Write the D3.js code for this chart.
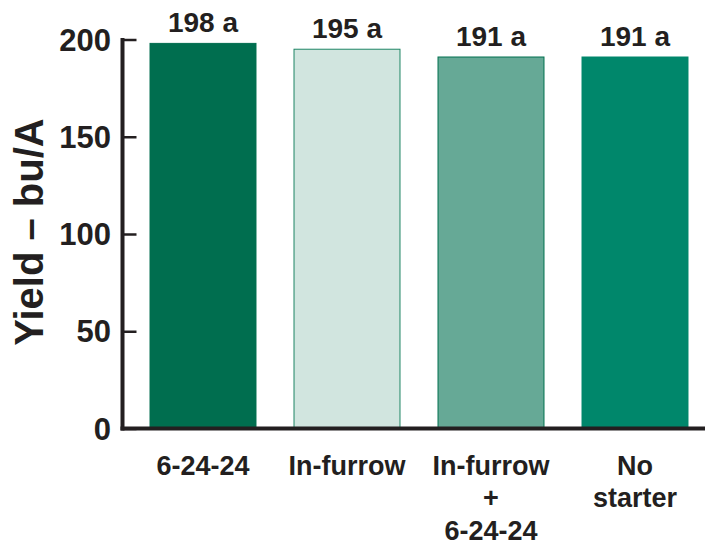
<!DOCTYPE html>
<html>
<head>
<meta charset="utf-8">
<script src="https://cdn.jsdelivr.net/npm/d3@7"></script>
<style>
  html, body { margin: 0; padding: 0; background: #fff; }
  svg { display: block; font-family: "Liberation Sans", Arial, Helvetica, sans-serif; font-weight: bold; }
</style>
</head>
<body>
<svg id="chart" width="705" height="544"></svg>
<script>
// Yield by starter treatment
const categories = ["6-24-24", "In-furrow", "In-furrow\n+\n6-24-24", "No\nstarter"];
const yields = [198, 195, 191, 191];
const letters = ["a", "a", "a", "a"];
const yTicks = [0, 50, 100, 150, 200];
const fills = ["#006e4f", "#d1e5df", "#66a996", "#00876b"];
const strokes = ["#006e4f", "#1f8565", "#00704f", "#00876b"];

const ink = "#231f20";
const svg = d3.select("#chart");

const y = d3.scaleLinear().domain([0, 200]).range([428.5, 39.5]);
const x = d3.scaleBand().domain(categories).range([131, 707])
  .paddingInner(0.264).paddingOuter(0.132);

// bars
svg.append("g").selectAll("rect").data(categories).join("rect")
  .attr("x", d => x(d))
  .attr("width", x.bandwidth())
  .attr("y", (d, i) => y(yields[i]))
  .attr("height", (d, i) => y(0) - y(yields[i]))
  .attr("fill", (d, i) => fills[i])
  .attr("stroke", (d, i) => strokes[i])
  .attr("stroke-width", 1);

// value labels
svg.append("g").selectAll("text").data(categories).join("text")
  .attr("x", d => x(d) + x.bandwidth() / 2)
  .attr("y", (d, i) => y(yields[i]) - 11)
  .attr("text-anchor", "middle")
  .attr("font-size", 28)
  .attr("fill", ink)
  .text((d, i) => `${yields[i]} ${letters[i]}`);

// y axis with inward ticks
const yAxis = svg.append("g").attr("transform", "translate(122.5,0)")
  .call(d3.axisRight(y).tickValues(yTicks).tickSize(14).tickSizeOuter(0).tickFormat(""));
yAxis.select(".domain").remove();
yAxis.selectAll(".tick line").attr("stroke", ink).attr("stroke-width", 2.5);
yAxis.append("line").attr("x1", 0).attr("x2", 0).attr("y1", y(200) - 1.5).attr("y2", y(0) + 2)
  .attr("stroke", ink).attr("stroke-width", 4);

// y tick labels
svg.append("g").selectAll("text").data(yTicks).join("text")
  .attr("x", 111)
  .attr("y", d => y(d))
  .attr("dy", "0.36em")
  .attr("text-anchor", "end")
  .attr("font-size", 31)
  .attr("fill", ink)
  .text(d => d);

// x axis baseline
svg.append("line")
  .attr("x1", 120.5).attr("x2", 705)
  .attr("y1", y(0)).attr("y2", y(0))
  .attr("stroke", ink).attr("stroke-width", 4);

// category labels
const xl = svg.append("g").selectAll("text").data(categories).join("text")
  .attr("x", d => x(d) + x.bandwidth() / 2)
  .attr("y", 474.5)
  .attr("text-anchor", "middle")
  .attr("font-size", 27)
  .attr("fill", ink);
xl.each(function(d) {
  const t = d3.select(this);
  d.split("\n").forEach((line, k) => {
    t.append("tspan")
      .attr("x", x(d) + x.bandwidth() / 2)
      .attr("dy", k === 0 ? 0 : 32.5)
      .text(line);
  });
});

// y axis title
svg.append("text")
  .attr("transform", "translate(43,232) rotate(-90)")
  .attr("text-anchor", "middle")
  .attr("font-size", 40)
  .attr("fill", ink)
  .text("Yield – bu/A");
</script>
</body>
</html>
